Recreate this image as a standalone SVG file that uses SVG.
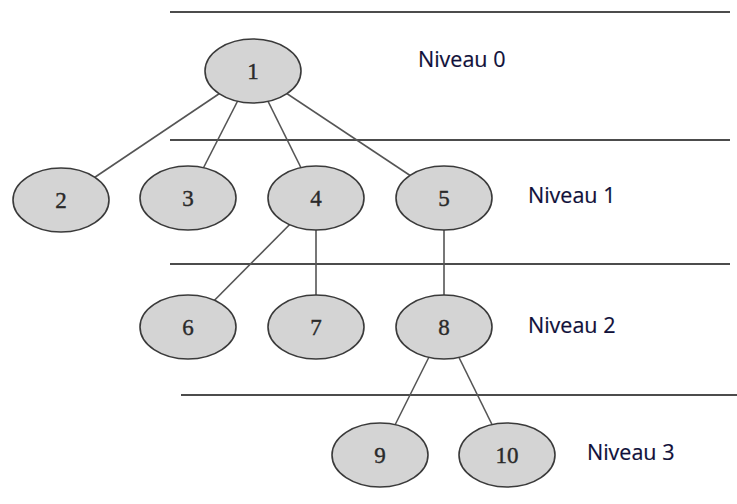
<svg xmlns="http://www.w3.org/2000/svg" width="737" height="504" viewBox="0 0 737 504">
<style>
.lvl{stroke:#111;stroke-width:1.4;fill:none}
.edge{stroke:#555;stroke-width:1.6;fill:none}
.node ellipse{fill:#d4d4d4;stroke:#3a3a3a;stroke-width:1.6}
.node text{font-family:"Liberation Serif","Times New Roman",serif;font-size:23px;fill:#2a2a2a;stroke:#2a2a2a;stroke-width:0.4;text-anchor:middle}
.label{font-family:"Open Sans","Liberation Sans",Arial,sans-serif;font-size:21.5px;fill:#10103a;stroke:#10103a;stroke-width:0.2}
</style>
<rect width="737" height="504" fill="#fff"/>
<g id="levels">
<line class="lvl" x1="170" y1="12" x2="730" y2="12"/>
<line class="lvl" x1="170" y1="140" x2="730" y2="140"/>
<line class="lvl" x1="170" y1="264" x2="730" y2="264"/>
<line class="lvl" x1="181" y1="395" x2="737" y2="395"/>
</g>
<g id="connectors">
<line class="edge" x1="253" y1="71" x2="61" y2="200"/>
<line class="edge" x1="253" y1="71" x2="188" y2="198"/>
<line class="edge" x1="253" y1="71" x2="316" y2="198"/>
<line class="edge" x1="253" y1="71" x2="444" y2="198"/>
<line class="edge" x1="316" y1="198" x2="188" y2="327"/>
<line class="edge" x1="316" y1="198" x2="316" y2="327"/>
<line class="edge" x1="444" y1="198" x2="444" y2="327"/>
<line class="edge" x1="444" y1="327" x2="380" y2="455"/>
<line class="edge" x1="444" y1="327" x2="507" y2="455"/>
</g>
<g id="n1" class="node"><ellipse cx="253" cy="71" rx="48" ry="32"/><text x="253" y="79">1</text></g>
<g id="n2" class="node"><ellipse cx="61" cy="200" rx="48" ry="32"/><text x="61" y="208">2</text></g>
<g id="n3" class="node"><ellipse cx="188" cy="198" rx="48" ry="32"/><text x="188" y="206">3</text></g>
<g id="n4" class="node"><ellipse cx="316" cy="198" rx="48" ry="32"/><text x="316" y="206">4</text></g>
<g id="n5" class="node"><ellipse cx="444" cy="198" rx="48" ry="32"/><text x="444" y="206">5</text></g>
<g id="n6" class="node"><ellipse cx="188" cy="327" rx="48" ry="32"/><text x="188" y="335">6</text></g>
<g id="n7" class="node"><ellipse cx="316" cy="327" rx="48" ry="32"/><text x="316" y="335">7</text></g>
<g id="n8" class="node"><ellipse cx="444" cy="327" rx="48" ry="32"/><text x="444" y="335">8</text></g>
<g id="n9" class="node"><ellipse cx="380" cy="455" rx="48" ry="32"/><text x="380" y="463">9</text></g>
<g id="n10" class="node"><ellipse cx="507" cy="455" rx="48" ry="32"/><text x="507" y="463">10</text></g>
<g id="labels">
<text class="label" x="418" y="67">Niveau 0</text>
<text class="label" x="528" y="203">Niveau 1</text>
<text class="label" x="528" y="333">Niveau 2</text>
<text class="label" x="587" y="460">Niveau 3</text>
</g>
</svg>
